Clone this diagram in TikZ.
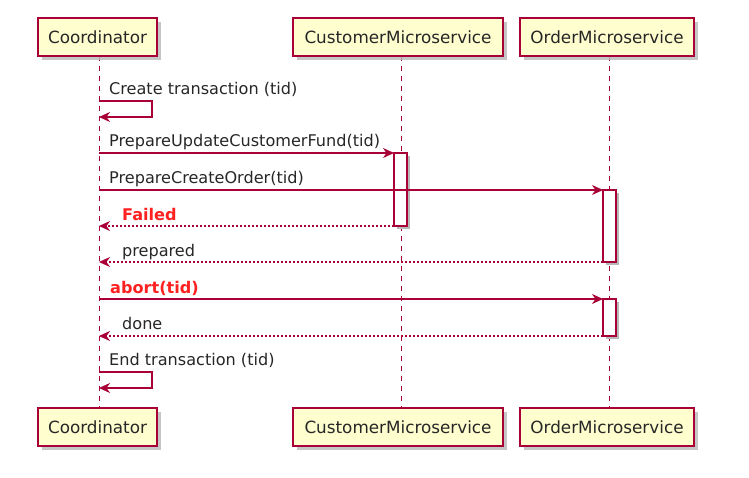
\documentclass[tikz,border=0pt]{standalone}
\usepackage{fontspec}
\setmainfont{DejaVu Sans}
\usetikzlibrary{arrows.meta}
\definecolor{pborder}{HTML}{A80036}
\definecolor{pfill}{HTML}{FEFECE}
\definecolor{pshadow}{HTML}{B8B8B8}
\definecolor{pred}{HTML}{FF2020}
\tikzset{
  x=1pt,y=-1pt,
  part/.style={draw=pborder,fill=pfill,line width=1.6pt,minimum height=38pt,inner sep=0pt,font=\fontsize{16.8}{18}\selectfont,text=black!85},
  life/.style={draw=pborder,line width=1pt,dash pattern=on 5pt off 5pt},
  msg/.style={draw=pborder,line width=1.1pt,-{Stealth[length=11pt,width=10pt,inset=3.5pt]}},
  ret/.style={msg,dash pattern=on 2pt off 2pt},
  act/.style={draw=pborder,fill=white,line width=1.1pt},
  lbl/.style={anchor=base west,inner sep=0pt,font=\fontsize{16.1}{18}\selectfont,text=black!85},
  rlbl/.style={lbl,text=pred,font=\fontsize{16.1}{18}\selectfont\bfseries},
}
\begin{document}
\begin{tikzpicture}
\useasboundingbox (0,0) rectangle (749,477);
% lifelines
\coordinate (cT) at (99,56); \coordinate (cB) at (99,408);
\coordinate (uT) at (401,56); \coordinate (uB) at (401,408);
\coordinate (oT) at (609,56); \coordinate (oB) at (609,408);
\draw[life] (cT) -- (cB);
\draw[life] (uT) -- (uB);
\draw[life] (oT) -- (oB);
% participant shadows
\foreach \a/\b/\y in {38/157/18,293/503/18,520/694/18,38/157/408,293/503/408,520/694/408}{
  \fill[pshadow,opacity=0.8] (\a+4,\y+4) rectangle (\b+4,\y+42);
}
% participants
\node[part,minimum width=119pt] (c1) at (97.5,37) {Coordinator};
\node[part,minimum width=210pt] (u1) at (398,37) {CustomerMicroservice};
\node[part,minimum width=174pt] (o1) at (607,37) {OrderMicroservice};
\node[part,minimum width=119pt] (c2) at (97.5,427) {Coordinator};
\node[part,minimum width=210pt] (u2) at (398,427) {CustomerMicroservice};
\node[part,minimum width=174pt] (o2) at (607,427) {OrderMicroservice};
% activation boxes
\fill[pshadow] (397,156) rectangle (410,229);
\draw[act] (394,153) rectangle (407,226);
\coordinate (ua1) at (394,153); \coordinate (ua2) at (394,226);
\fill[pshadow] (606,193) rectangle (619,265);
\draw[act] (603,190) rectangle (616,262);
\coordinate (oa1) at (603,190); \coordinate (oa2) at (603,262);
\fill[pshadow] (606,302) rectangle (619,339);
\draw[act] (603,299) rectangle (616,336);
\coordinate (ob1) at (603,299); \coordinate (ob2) at (603,336);
% messages
\coordinate (s1a) at (99,101); \coordinate (s1b) at (99,117);
\node[lbl] (m1) at (109,94) {Create transaction (tid)};
\draw[msg] (s1a) -- (152,101) -- (152,117) -- (s1b);
\coordinate (c153) at (99,153);
\node[lbl] (m2) at (109,146) {PrepareUpdateCustomerFund(tid)};
\draw[msg] (c153) -- (ua1);
\coordinate (c190) at (99,190);
\node[lbl] (m3) at (109,183) {PrepareCreateOrder(tid)};
\draw[msg] (c190) -- (oa1);
\coordinate (c226) at (99,226);
\node[rlbl] (m4) at (122,220) {Failed};
\draw[ret] (ua2) -- (c226);
\coordinate (c262) at (99,262);
\node[lbl] (m5) at (122,256) {prepared};
\draw[ret] (oa2) -- (c262);
\coordinate (c299) at (99,299);
\node[rlbl] (m6) at (110,293) {abort(tid)};
\draw[msg] (c299) -- (ob1);
\coordinate (c336) at (99,336);
\node[lbl] (m7) at (122,329) {done};
\draw[ret] (ob2) -- (c336);
\coordinate (s2a) at (99,372); \coordinate (s2b) at (99,388);
\node[lbl] (m8) at (109,365) {End transaction (tid)};
\draw[msg] (s2a) -- (152,372) -- (152,388) -- (s2b);
\end{tikzpicture}
\end{document}
